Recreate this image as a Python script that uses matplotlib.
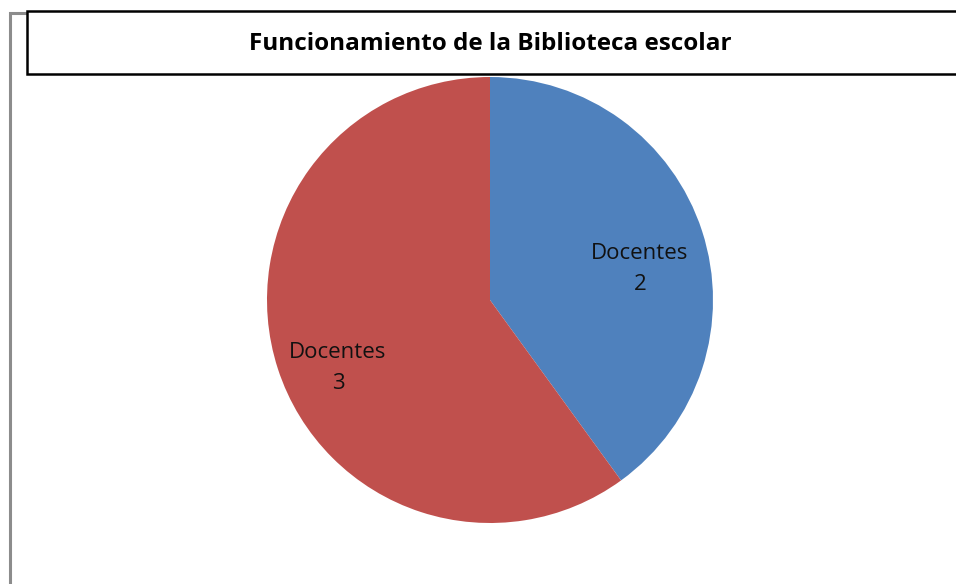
import matplotlib
matplotlib.use("Agg")
import matplotlib.pyplot as plt
from matplotlib.patches import Rectangle

title = "Funcionamiento de la Biblioteca escolar"
categories = ["Docentes", "Docentes"]
values = [2, 3]
colors = ["#4F81BD", "#C0504D"]

W, H = 956, 584
fig = plt.figure(figsize=(W / 100, H / 100), dpi=100)
ax = fig.add_axes([0, 0, 1, 1])
ax.set_xlim(0, W)
ax.set_ylim(0, H)
ax.set_aspect("equal")
ax.axis("off")

# outer gray frame
ax.add_patch(Rectangle((10, -10), W + 20, H - 13 + 10, fill=False,
                       edgecolor="#8c8c8c", lw=2.2, zorder=1))
# title box
ax.add_patch(Rectangle((27, H - 74), W + 20, 63, facecolor="white",
                       edgecolor="black", lw=1.8, zorder=2))
ax.text(490, H - 44, title, ha="center", va="center", fontsize=17.5,
        fontweight="bold", family="Open Sans", color="black", zorder=3)

cx, cy, r = 490, H - 300, 223
wedges, _ = ax.pie(values, colors=colors, startangle=90, counterclock=False,
                   center=(cx, cy), radius=r, frame=True,
                   wedgeprops=dict(linewidth=0))
ax.set_xlim(0, W)
ax.set_ylim(0, H)
ax.axis("off")

label_pos = [(640, H - 269), (338, H - 368)]
for (x, y), c, v in zip(label_pos, categories, values):
    ax.text(x, y, f"{c}\n{v}", ha="center", va="center", fontsize=16,
            family="Open Sans", color="#111111", linespacing=1.6, zorder=4)

fig.savefig("out.png", dpi=100)
